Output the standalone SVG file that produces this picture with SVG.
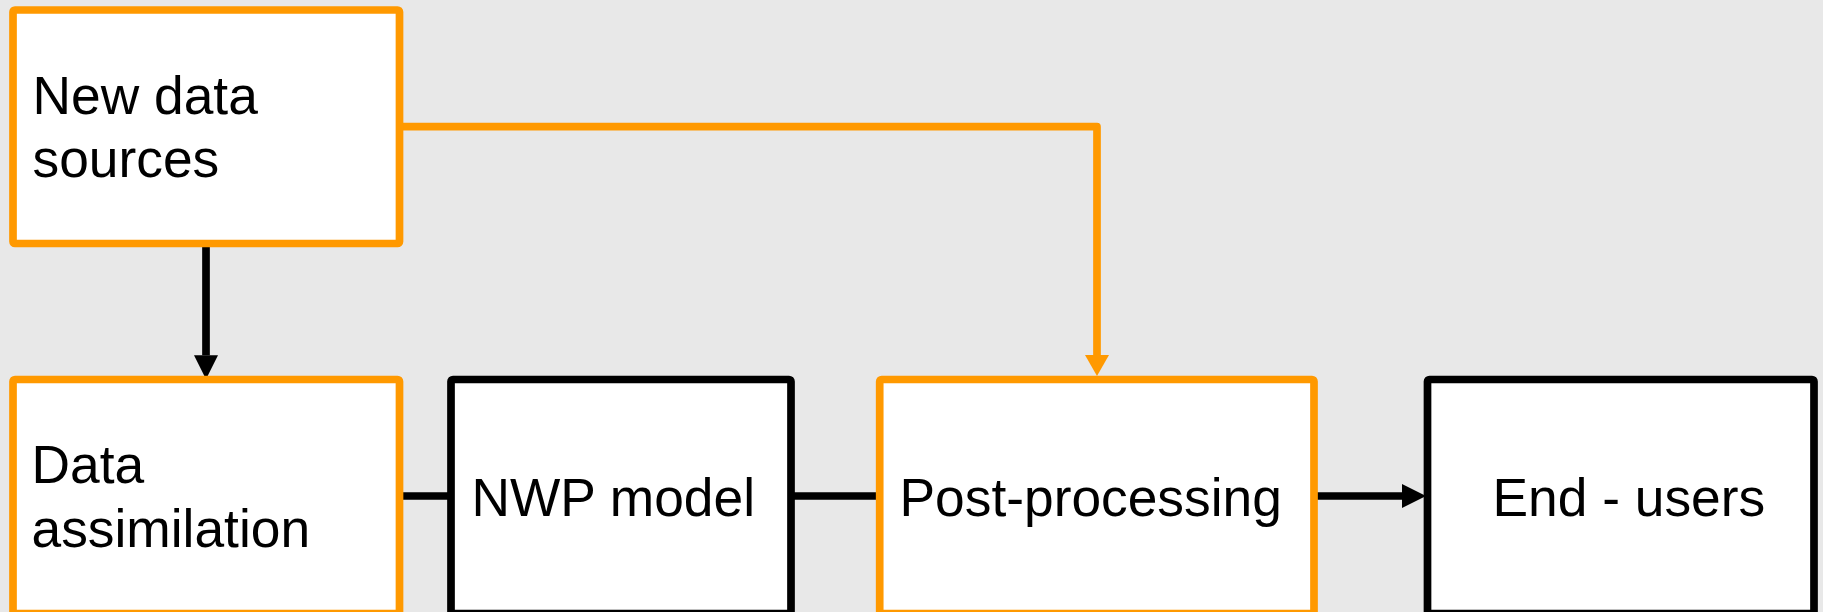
<svg xmlns="http://www.w3.org/2000/svg" width="1823" height="612" viewBox="0 0 1823 612">
  <style>
    .box { fill: #ffffff; stroke-width: 7.7; stroke-linejoin: round; }
    .orange { stroke: #ff9900; }
    .black { stroke: #000000; }
    .lbl { font-family: "Liberation Sans", Arial, sans-serif; font-size: 53.33px; fill: #000000; }
    .conn { fill: none; stroke-width: 7.7; stroke-linejoin: round; }
  </style>
  <defs>
    <marker id="arrBlack" markerUnits="userSpaceOnUse" markerWidth="24" markerHeight="24" viewBox="0 0 23 23" refX="0" refY="11.5" orient="auto">
      <path d="M0,0 L23,11.5 L0,23 Z" fill="#000000"/>
    </marker>
    <marker id="arrOrange" markerUnits="userSpaceOnUse" markerWidth="24" markerHeight="24" viewBox="0 0 24 24" refX="0" refY="12" orient="auto">
      <path d="M0,0 L21,12 L0,24 Z" fill="#ff9900"/>
    </marker>
  </defs>
  <rect x="0" y="0" width="1823" height="612" fill="#e8e8e8"/>

  <g id="connectors">
    <path class="conn black" d="M206,243.5 L206,355.3" stroke="#000" marker-end="url(#arrBlack)"/>
    <path class="conn orange" d="M399.5,126.7 L1097,126.7 L1097,355" marker-end="url(#arrOrange)"/>
    <path class="conn black" d="M399.5,496 L451,496"/>
    <path class="conn black" d="M791,496 L879.7,496"/>
    <path class="conn black" d="M1314,496 L1402,496" marker-end="url(#arrBlack)"/>
  </g>

  <g id="new-data-sources">
    <rect class="box orange" x="13" y="10" width="386.5" height="233.5" rx="2"/>
    <text class="lbl" x="32.5" y="114">New data</text>
    <text class="lbl" x="32.5" y="177">sources</text>
  </g>

  <g id="data-assimilation">
    <rect class="box orange" x="13" y="379.5" width="386.5" height="234" rx="2"/>
    <text class="lbl" x="31.5" y="483">Data</text>
    <text class="lbl" x="31.5" y="547">assimilation</text>
  </g>

  <g id="nwp-model">
    <rect class="box black" x="451" y="379.5" width="340" height="234" rx="2"/>
    <text class="lbl" x="471.5" y="516">NWP model</text>
  </g>

  <g id="post-processing">
    <rect class="box orange" x="879.7" y="379.5" width="434.3" height="234" rx="2"/>
    <text class="lbl" x="899.5" y="516">Post-processing</text>
  </g>

  <g id="end-users">
    <rect class="box black" x="1427.5" y="379.5" width="386.5" height="234" rx="2"/>
    <text class="lbl" x="1492.5" y="516">End - users</text>
  </g>
</svg>
